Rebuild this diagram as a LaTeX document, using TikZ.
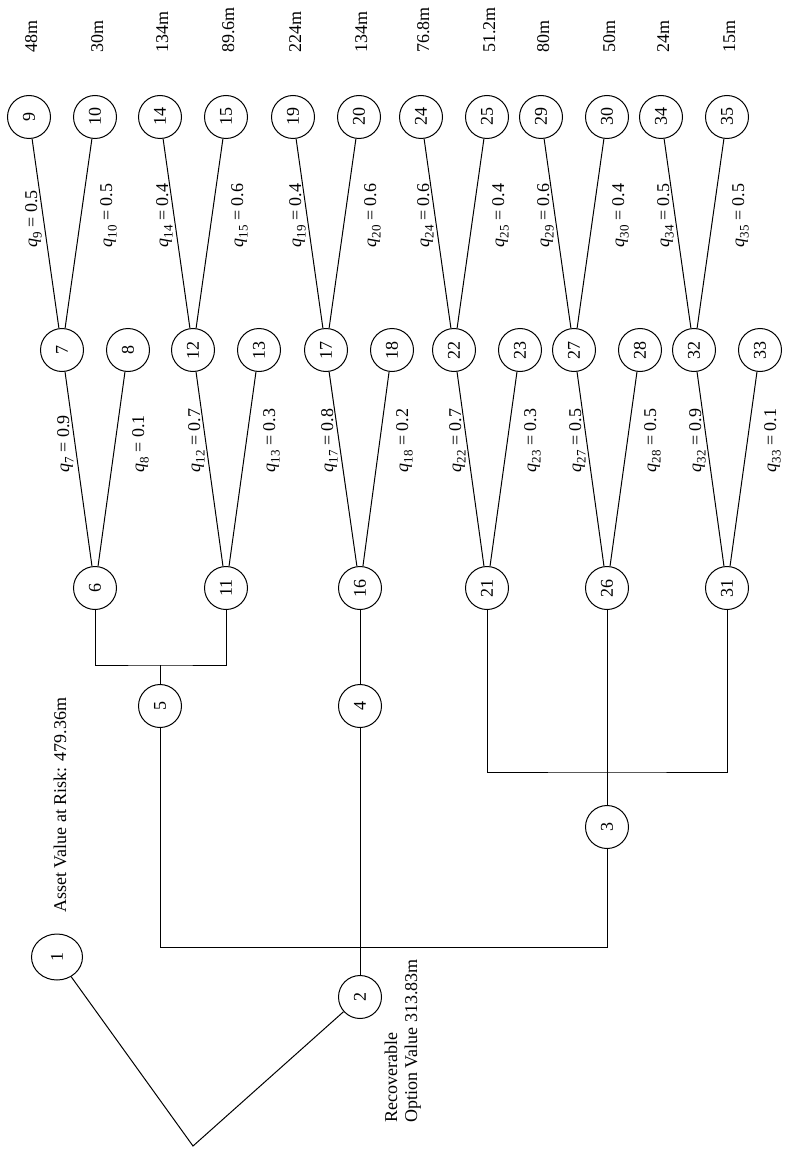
\documentclass[tikz,border=0pt]{standalone}
\usepackage{fontspec}
\setmainfont{Liberation Serif}
\usetikzlibrary{shapes.geometric}
\newcommand\qlab[2]{\textit{q}\kern0.5pt\raisebox{-4.5pt}{\fontsize{13}{13}\selectfont #1} = #2}
\begin{document}
\begin{tikzpicture}[x=1pt,y=-1pt,
  every node/.style={font=\fontsize{18}{22}\selectfont},
  nd/.style={circle,draw,line width=1pt,minimum size=43pt,inner sep=0pt,rotate=90},
  rootnd/.style={ellipse,draw,line width=1pt,minimum width=46pt,minimum height=51pt,inner sep=0pt,rotate=90},
  edge/.style={line width=1pt},
  lbl/.style={rotate=90,anchor=base west,inner sep=0pt}]
\useasboundingbox (0,0) rectangle (784,1158);
% leaves with values
\foreach \n/\x/\v in {9/29/48m,10/95/30m,14/160/134m,15/226/89.6m,19/293/224m,20/359/134m,24/421/76.8m,25/487/51.2m,29/541/80m,30/607/50m,34/661/24m,35/727/15m}{
  \node[nd] (n\n) at (\x,117) {\n};
  \node[lbl] (v\n) at (\x+8,53) {\v};
}
% middle row
\foreach \n/\x in {7/62,8/128,12/193,13/259,17/326,18/392,22/454,23/520,27/574,28/640,32/694,33/760}{
  \node[nd] (n\n) at (\x,350) {\n};
}
% third row
\foreach \n/\x in {6/95,11/226,16/360,21/487,26/607,31/727}{
  \node[nd] (n\n) at (\x,588) {\n};
}
\node[nd] (n5) at (160,706) {5};
\node[nd] (n4) at (360,706) {4};
\node[nd] (n3) at (607,827) {3};
\node[nd] (n2) at (360,997) {2};
\node[rootnd] (n1) at (57,957) {1};
\coordinate (r) at (193,1146);
\coordinate (b1) at (360,947);
\coordinate (b2) at (160,665);
\coordinate (b3) at (607,772);
% edges
\foreach \p/\c in {7/9,7/10,12/14,12/15,17/19,17/20,22/24,22/25,27/29,27/30,32/34,32/35,
  6/7,6/8,11/12,11/13,16/17,16/18,21/22,21/23,26/27,26/28,31/32,31/33}{
  \draw[edge] (n\p) -- (n\c);
}
\draw[edge] (n1) -- (r) -- (n2);
\draw[edge] (n2) -- (n4);
\draw[edge] (n4) -- (n16);
\draw[edge] (n5) |- (b1) -| (n3);
\draw[edge] (n5) -- (b2);
\draw[edge] (n6) |- (b2) -| (n11);
\draw[edge] (n3) -- (n26);
\draw[edge] (n21) |- (b3) -| (n31);
% probability labels
\foreach \c/\x/\y/\v in {9/37/248/0.5,10/112/248/0.5,14/168/248/0.4,15/243/248/0.6,19/301/248/0.4,20/376/248/0.6,24/429/248/0.6,25/504/248/0.4,29/549/248/0.6,30/624/248/0.4,34/669/248/0.5,35/744/248/0.5,
  7/69/473/0.9,8/144/473/0.1,12/200/473/0.7,13/275/473/0.3,17/333/473/0.8,18/408/473/0.2,22/461/473/0.7,23/536/473/0.3,27/581/473/0.5,28/656/473/0.5,32/701/473/0.9,33/776/473/0.1}{
  \node[lbl] (q\c) at (\x,\y) {\qlab{\c}{\v}};
}
\node[lbl] (asset) at (66,913) {Asset Value at Risk: 479.36m};
\node[lbl] (rec1) at (397,1123) {Recoverable};
\node[lbl] (rec2) at (417,1123) {Option Value 313.83m};
\end{tikzpicture}
\end{document}
